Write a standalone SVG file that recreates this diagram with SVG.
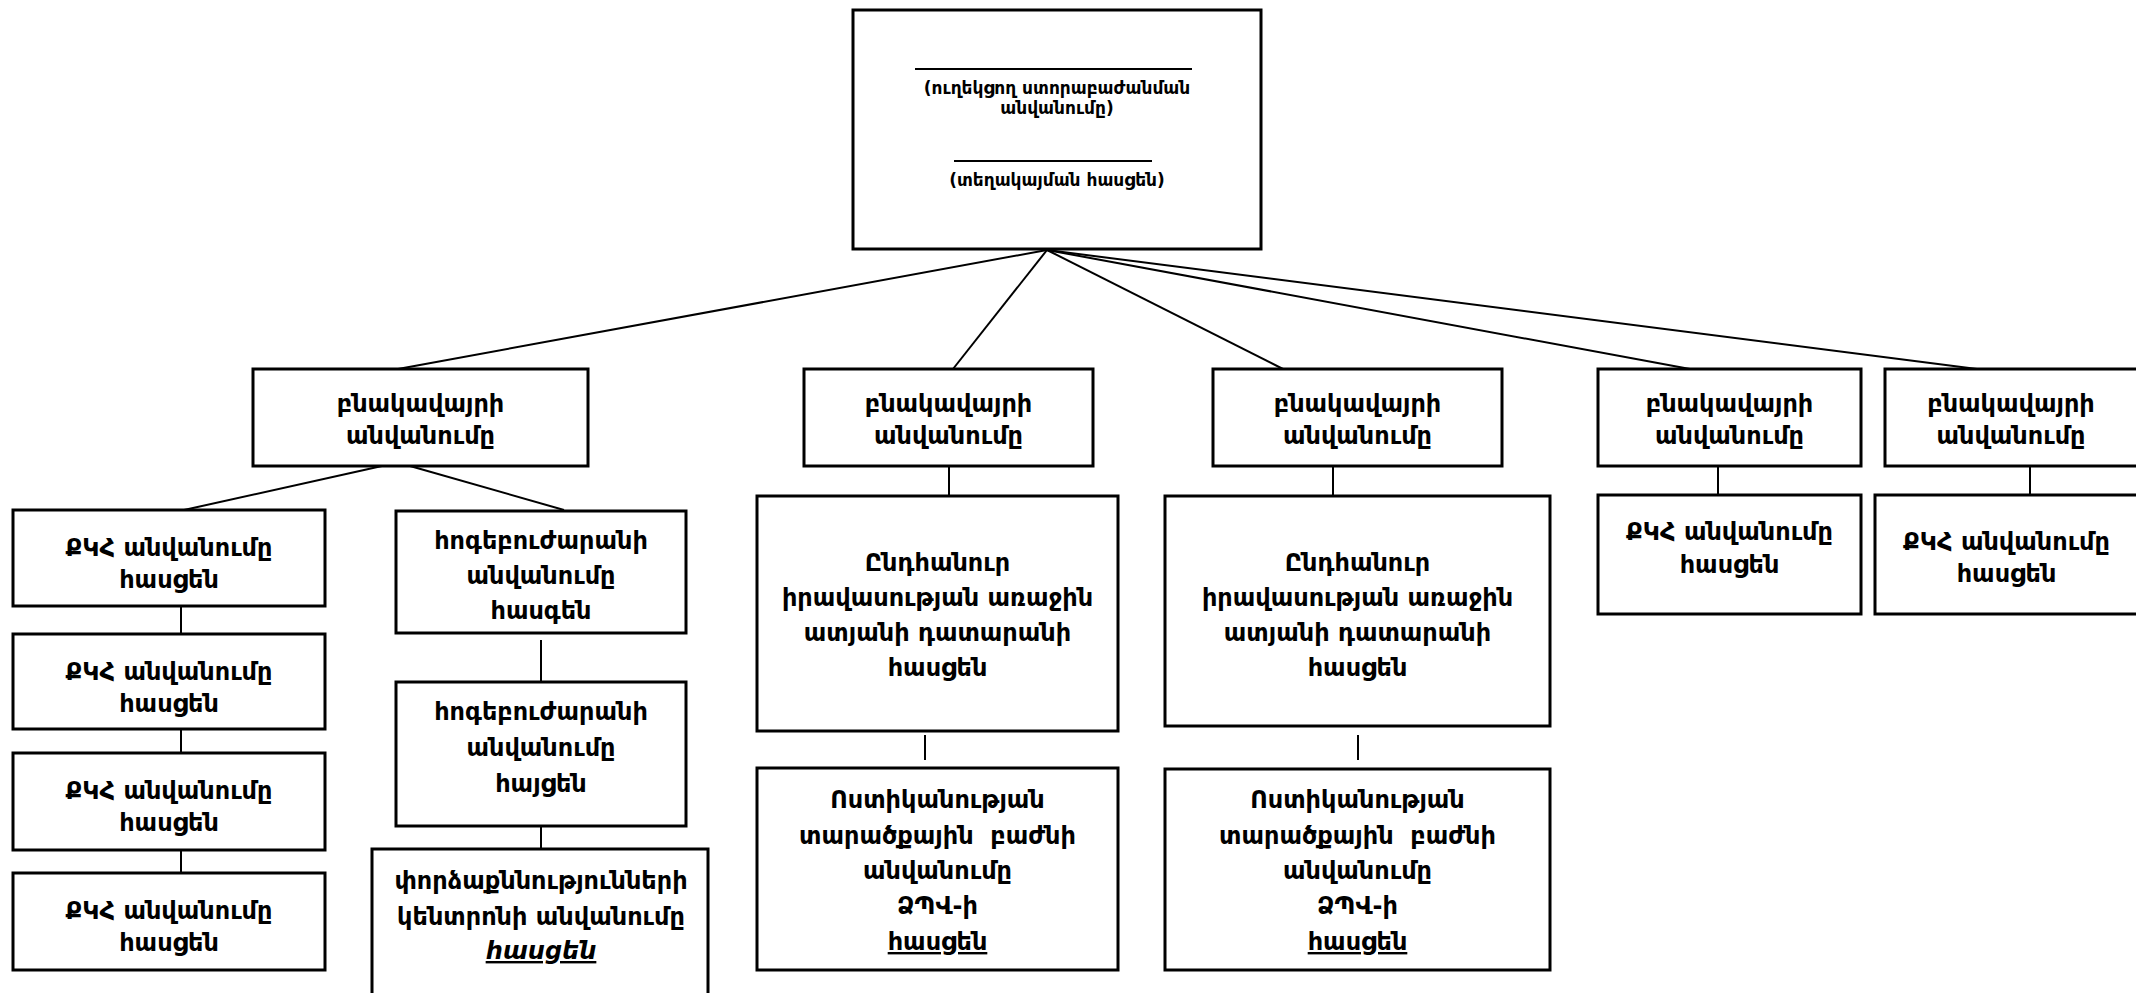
<svg xmlns="http://www.w3.org/2000/svg" width="2136" height="993" viewBox="0 0 2136 993">
<style>
.box{fill:#fff;stroke:#000;stroke-width:3}
.ln{stroke:#000;stroke-width:2;fill:none}
text{font-family:"DejaVu Sans",sans-serif;font-weight:bold;font-size:24px;text-anchor:middle;fill:#000}
.sm{font-size:17px}
.u{text-decoration:underline}
.i{font-style:italic}
</style>
<rect width="2136" height="993" fill="#fff"/>
<g id="connectors">
<line class="ln" x1="1047" y1="250" x2="398" y2="369"/>
<line class="ln" x1="1047" y1="250" x2="953" y2="369"/>
<line class="ln" x1="1047" y1="250" x2="1283" y2="369"/>
<line class="ln" x1="1047" y1="250" x2="1690" y2="369"/>
<line class="ln" x1="1047" y1="250" x2="1977" y2="369"/>
<line class="ln" x1="382" y1="466" x2="184" y2="510"/>
<line class="ln" x1="410" y1="466" x2="564" y2="510"/>
<line class="ln" x1="181" y1="606" x2="181" y2="634"/>
<line class="ln" x1="181" y1="729" x2="181" y2="753"/>
<line class="ln" x1="181" y1="850" x2="181" y2="873"/>
<line class="ln" x1="541" y1="640" x2="541" y2="681"/>
<line class="ln" x1="541" y1="826" x2="541" y2="849"/>
<line class="ln" x1="949" y1="466" x2="949" y2="496"/>
<line class="ln" x1="925" y1="735" x2="925" y2="760"/>
<line class="ln" x1="1333" y1="466" x2="1333" y2="496"/>
<line class="ln" x1="1358" y1="735" x2="1358" y2="760"/>
<line class="ln" x1="1718" y1="466" x2="1718" y2="495"/>
<line class="ln" x1="2030" y1="466" x2="2030" y2="495"/>
</g>
<g id="root">
<rect class="box" x="853" y="10" width="408" height="239"/>
<line class="ln" x1="915" y1="69" x2="1192" y2="69"/>
<text class="sm" x="1057" y="94">(ուղեկցող ստորաբաժանման</text>
<text class="sm" x="1057" y="114">անվանումը)</text>
<line class="ln" x1="954" y1="161" x2="1152" y2="161"/>
<text class="sm" x="1057" y="186">(տեղակայման հասցեն)</text>
</g>
<g id="settlement-a">
<rect class="box" x="253" y="369" width="335" height="97"/>
<text x="420.5" y="412">բնակավայրի</text>
<text x="420.5" y="444">անվանումը</text>
</g>
<g id="prison-a1">
<rect class="box" x="13" y="510" width="312" height="96"/>
<text x="169" y="556">ՔԿՀ անվանումը</text>
<text x="169" y="588">հասցեն</text>
</g>
<g id="prison-a2">
<rect class="box" x="13" y="634" width="312" height="95"/>
<text x="169" y="680">ՔԿՀ անվանումը</text>
<text x="169" y="712">հասցեն</text>
</g>
<g id="prison-a3">
<rect class="box" x="13" y="753" width="312" height="97"/>
<text x="169" y="799">ՔԿՀ անվանումը</text>
<text x="169" y="831">հասցեն</text>
</g>
<g id="prison-a4">
<rect class="box" x="13" y="873" width="312" height="97"/>
<text x="169" y="919">ՔԿՀ անվանումը</text>
<text x="169" y="951">հասցեն</text>
</g>
<g id="hospital-1">
<rect class="box" x="396" y="511" width="290" height="122"/>
<text x="541" y="549">հոգեբուժարանի</text>
<text x="541" y="584">անվանումը</text>
<text x="541" y="619">հասգեն</text>
</g>
<g id="hospital-2">
<rect class="box" x="396" y="682" width="290" height="144"/>
<text x="541" y="720">հոգեբուժարանի</text>
<text x="541" y="756">անվանումը</text>
<text x="541" y="792">հայցեն</text>
</g>
<g id="expertise">
<rect class="box" x="372" y="849" width="336" height="160"/>
<text x="541" y="889">փորձաքննությունների</text>
<text x="541" y="925">կենտրոնի անվանումը</text>
<text class="i u" x="541" y="959">հասցեն</text>
</g>
<g id="settlement-b">
<rect class="box" x="804" y="369" width="289" height="97"/>
<text x="948.5" y="412">բնակավայրի</text>
<text x="948.5" y="444">անվանումը</text>
</g>
<g id="court-b">
<rect class="box" x="757" y="496" width="361" height="235"/>
<text x="937.5" y="571">Ընդհանուր</text>
<text x="937.5" y="606">իրավասության առաջին</text>
<text x="937.5" y="641">ատյանի դատարանի</text>
<text x="937.5" y="676">հասցեն</text>
</g>
<g id="police-b">
<rect class="box" x="757" y="768" width="361" height="202"/>
<text x="937.5" y="808">Ոստիկանության</text>
<text x="937.5" y="844" xml:space="preserve">տարածքային  բաժնի</text>
<text x="937.5" y="879">անվանումը</text>
<text x="937.5" y="914">ՁՊՎ-ի</text>
<text class="u" x="937.5" y="950">հասցեն</text>
</g>
<g id="settlement-c">
<rect class="box" x="1213" y="369" width="289" height="97"/>
<text x="1357.5" y="412">բնակավայրի</text>
<text x="1357.5" y="444">անվանումը</text>
</g>
<g id="court-c">
<rect class="box" x="1165" y="496" width="385" height="230"/>
<text x="1357.5" y="571">Ընդհանուր</text>
<text x="1357.5" y="606">իրավասության առաջին</text>
<text x="1357.5" y="641">ատյանի դատարանի</text>
<text x="1357.5" y="676">հասցեն</text>
</g>
<g id="police-c">
<rect class="box" x="1165" y="769" width="385" height="201"/>
<text x="1357.5" y="808">Ոստիկանության</text>
<text x="1357.5" y="844" xml:space="preserve">տարածքային  բաժնի</text>
<text x="1357.5" y="879">անվանումը</text>
<text x="1357.5" y="914">ՁՊՎ-ի</text>
<text class="u" x="1357.5" y="950">հասցեն</text>
</g>
<g id="settlement-d">
<rect class="box" x="1598" y="369" width="263" height="97"/>
<text x="1729.5" y="412">բնակավայրի</text>
<text x="1729.5" y="444">անվանումը</text>
</g>
<g id="prison-d">
<rect class="box" x="1598" y="495" width="263" height="119"/>
<text x="1729.5" y="540">ՔԿՀ անվանումը</text>
<text x="1729.5" y="573">հասցեն</text>
</g>
<g id="settlement-e">
<rect class="box" x="1885" y="369" width="253" height="97"/>
<text x="2011" y="412">բնակավայրի</text>
<text x="2011" y="444">անվանումը</text>
</g>
<g id="prison-e">
<rect class="box" x="1875" y="495" width="263" height="119"/>
<text x="2006.5" y="550">ՔԿՀ անվանումը</text>
<text x="2006.5" y="582">հասցեն</text>
</g>
</svg>
